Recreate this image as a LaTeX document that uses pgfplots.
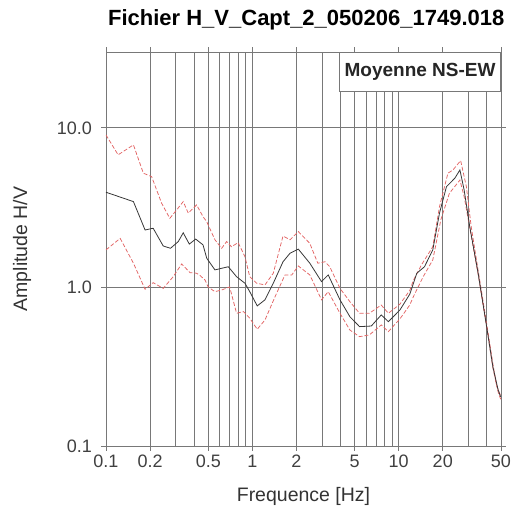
\documentclass[border=0pt]{standalone}
\usepackage{pgfplots}
\pgfplotsset{compat=1.18}
\usepackage{fontspec}
\setmainfont{Liberation Sans}
\definecolor{redline}{RGB}{226,100,100}
\definecolor{gridc}{RGB}{120,120,120}
\definecolor{meanc}{RGB}{55,55,55}
\begin{document}
\begin{tikzpicture}
\useasboundingbox (0,0) rectangle (515pt,507pt);
\begin{loglogaxis}[
  at={(106pt,61pt)}, anchor=south west,
  width=395pt, height=394pt, scale only axis,
  xmin=0.1, xmax=50, ymin=0.1, ymax=30,
  xtick={0.1,0.2,0.5,1,2,5,10,20,50},
  xticklabels={0.1,0.2,0.5,1,2,5,10,20,50},
  minor xtick={0.3,0.4,0.6,0.7,0.8,0.9,3,4,6,7,8,9,30,40},
  ytick={0.1,1,10}, yticklabels={0.1,1.0,10.0},
  xmajorgrids, xminorgrids, ymajorgrids,
  grid style={gridc, line width=0.8pt},
  minor grid style={gridc, line width=0.8pt},
  axis line style={gridc, line width=0.8pt},
  tick style={gridc, line width=0.8pt},
  major tick length=5pt, minor tick length=0pt,
  tick align=outside,
  tick label style={font=\fontsize{18}{20}\selectfont, text=black!75},
  xticklabel style={anchor=base, yshift=-16.5pt},
  yticklabel style={anchor=east, inner sep=0pt, xshift=-9pt},
  title={Fichier H\_V\_Capt\_2\_050206\_1749.018},
  title style={font=\fontsize{22}{24}\selectfont\bfseries, at={(axis description cs:0.507,1.0515)}, anchor=base},
  xlabel={Frequence [Hz]},
  xlabel style={font=\fontsize{19.5}{22}\selectfont, text=black!80, at={(axis description cs:0.5,-0.1414)}, anchor=base},
  ylabel={Amplitude H/V},
  ylabel style={font=\fontsize{19.5}{22}\selectfont, text=black!80, at={(axis description cs:-0.2127,0.5)}, anchor=center},
]
% upper (mean + std)
\addplot[redline, line width=0.75pt, dash pattern=on 4pt off 2pt] coordinates {
(0.1,9.03) (0.121,6.77) (0.154,7.82) (0.18,5.19) (0.205,4.94) (0.24,3.36)
(0.273,2.70) (0.304,3.05) (0.337,3.44) (0.365,2.91) (0.416,3.28) (0.46,2.77)
(0.488,2.57) (0.555,1.98) (0.617,1.75) (0.667,1.93) (0.72,1.79) (0.80,1.90)
(0.89,1.55) (0.96,1.16) (1.07,1.055) (1.22,1.03) (1.39,1.22) (1.62,2.09)
(1.81,1.98) (2.06,2.23) (2.47,1.88) (2.8,1.41) (3.14,1.44) (3.38,1.34)
(3.97,0.98) (4.64,0.808) (5.4,0.683) (6.3,0.683) (7.6,0.77) (8.5,0.683)
(10.2,0.78) (11.9,0.95) (12.6,1.10) (14.3,1.375) (17.1,1.79) (19.0,3.2)
(21.7,5.19) (23.5,5.44) (26.5,6.23) (29,4.27) (31.3,2.39) (35,1.25)
(40,0.58) (44,0.33) (46.5,0.242) (50,0.204)
};
% lower (mean - std)
\addplot[redline, line width=0.75pt, dash pattern=on 4pt off 2pt] coordinates {
(0.1,1.71) (0.125,2.02) (0.154,1.41) (0.185,0.967) (0.21,1.064) (0.246,0.98)
(0.288,1.16) (0.329,1.395) (0.375,1.23) (0.416,1.22) (0.439,1.18) (0.475,1.106)
(0.499,1.0) (0.555,0.934) (0.617,0.957) (0.70,1.0) (0.78,0.683) (0.87,0.70)
(0.96,0.636) (1.08,0.542) (1.22,0.62) (1.43,0.869) (1.67,1.19) (1.86,1.19)
(2.06,1.355) (2.47,1.19) (2.97,0.83) (3.3,0.934) (3.97,0.683) (4.64,0.536)
(5.4,0.487) (6.3,0.499) (7.6,0.577) (8.5,0.524) (10.2,0.63) (11.9,0.77)
(12.6,0.869) (14.7,1.16) (17.1,1.48) (19.4,2.64) (22.2,3.88) (26.2,4.7)
(28,3.70) (29.9,2.64) (35,1.18) (40,0.55) (44,0.31) (48,0.215) (50,0.195)
};
% mean
\addplot[meanc, line width=0.8pt] coordinates {
(0.1,3.94) (0.154,3.44) (0.185,2.28) (0.21,2.34) (0.246,1.81) (0.276,1.75)
(0.312,1.93) (0.337,2.19) (0.371,1.86) (0.41,2.0) (0.46,1.84) (0.488,1.515)
(0.555,1.28) (0.617,1.31) (0.685,1.34) (0.78,1.16) (0.89,1.055) (0.96,0.934)
(1.08,0.76) (1.22,0.83) (1.39,1.055) (1.62,1.44) (1.81,1.63) (2.06,1.73)
(2.47,1.41) (2.97,1.08) (3.3,1.19) (3.97,0.83) (4.64,0.65) (5.4,0.563)
(6.5,0.568) (7.6,0.667) (8.5,0.605) (10.2,0.717) (11.9,0.90) (13.3,1.22)
(15.0,1.34) (17.1,1.71) (19.0,2.91) (21.2,4.27) (24.2,4.83) (26.2,5.44)
(28,4.07) (30.6,2.39) (34.9,1.22) (39.9,0.563) (44,0.315) (47.8,0.225) (49.7,0.204)
};
\node[draw=gridc, line width=0.8pt, fill=white, anchor=north east,
      minimum width=161pt, minimum height=39pt, inner sep=0pt,
      font=\fontsize{19}{21}\selectfont\bfseries, text=black!85]
      at (rel axis cs:1,1) {Moyenne NS-EW};
\end{loglogaxis}
\end{tikzpicture}
\end{document}
